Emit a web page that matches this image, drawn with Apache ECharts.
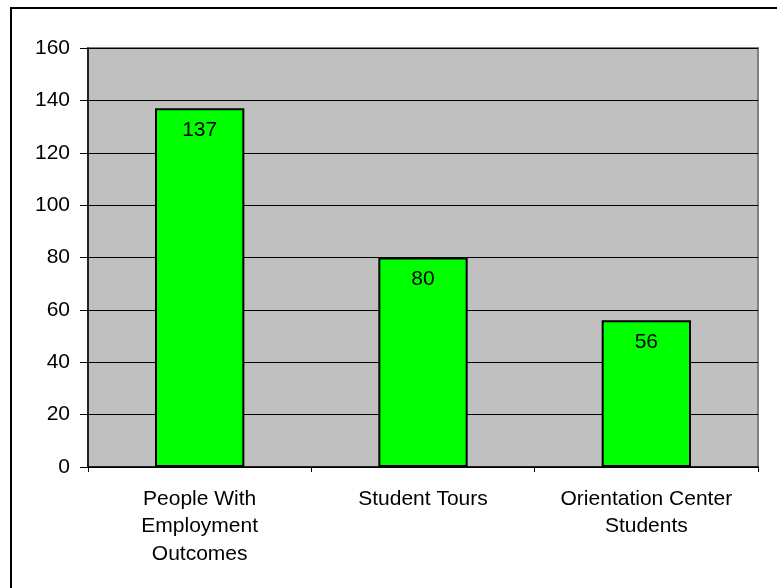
<!DOCTYPE html>
<html>
<head>
<meta charset="utf-8">
<script src="https://cdn.jsdelivr.net/npm/echarts@6/dist/echarts.min.js"></script>
<style>html,body{margin:0;padding:0;background:#fff}#c{width:777px;height:588px}</style>
</head>
<body>
<div id="c"></div>
<script>
var categories = ['People With\nEmployment\nOutcomes', 'Student Tours', 'Orientation Center\nStudents'];
var values = [137, 80, 56];
var yTicks = [0, 20, 40, 60, 80, 100, 120, 140, 160];

var chart = echarts.init(document.getElementById('c'), null, {renderer: 'canvas'});
var font = 'Liberation Sans, Arial, sans-serif';
chart.setOption({
  animation: false,
  backgroundColor: '#ffffff',
  graphic: [{
    type: 'rect', z: 100, silent: true,
    shape: {x: 11, y: 8, width: 800, height: 620},
    style: {fill: 'none', stroke: '#000', lineWidth: 2}
  }],
  grid: {left: 88, right: 19, top: 48, bottom: 121, show: true,
    backgroundColor: '#c0c0c0', borderColor: '#808080', borderWidth: 2},
  xAxis: {
    type: 'category', data: categories,
    axisLine: {lineStyle: {color: '#000', width: 1.5}},
    axisTick: {show: true, length: 5, alignWithLabel: false, lineStyle: {color: '#000'}},
    axisLabel: {color: '#000', fontFamily: font, fontSize: 21, lineHeight: 27.5, margin: 18, interval: 0}
  },
  yAxis: {
    type: 'value', min: 0, max: yTicks[yTicks.length - 1], interval: 20,
    axisLine: {show: true, lineStyle: {color: '#000', width: 1.5}},
    axisTick: {show: true, length: 8, lineStyle: {color: '#000'}},
    axisLabel: {color: '#000', fontFamily: font, fontSize: 21, margin: 18},
    splitLine: {show: true, lineStyle: {color: '#000', width: 1}}
  },
  series: [{
    type: 'bar', data: values, barWidth: '40%',
    itemStyle: {color: '#00ff00', borderColor: '#000', borderWidth: 2},
    label: {show: true, position: 'insideTop', distance: 11, color: '#000', fontFamily: font, fontSize: 21}
  }]
});
</script>
</body>
</html>
